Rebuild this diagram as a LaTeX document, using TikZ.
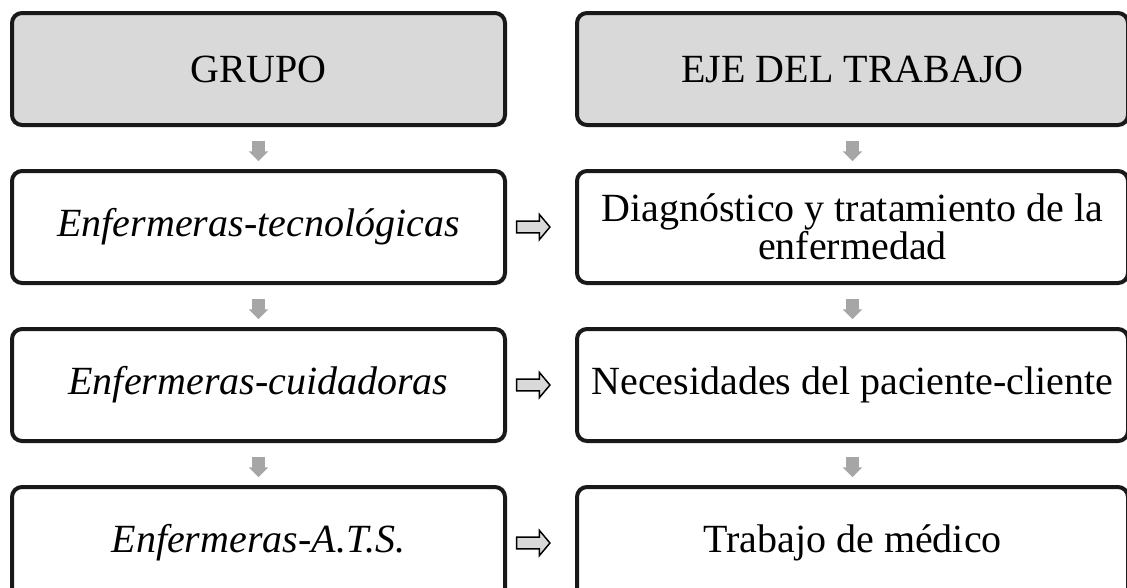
\documentclass[tikz,border=0pt]{standalone}
\usepackage{fontspec}
\setmainfont{Liberation Serif}
\usepackage{tikz}
\usetikzlibrary{shapes.arrows, positioning}

\begin{document}
\begin{tikzpicture}[
  node distance=31.5pt and 51pt,
  block/.style={rectangle, draw=black!90, line width=3pt, rounded corners=7.5pt, fill=white, minimum height=84pt, inner sep=4pt, align=center, font=\fontsize{30}{22.5}\selectfont},
  leftblock/.style={block, minimum width=369.75pt},
  rightblock/.style={block, minimum width=413.25pt},
  header/.style={fill=gray!30},
  downarrow/.style={single arrow, shape border rotate=270, draw=none, fill=gray!70, inner sep=4.5pt, minimum height=15pt, single arrow head extend=2.6pt, single arrow head indent=0pt},
  rightarrow/.style={single arrow, draw=black, line width=1.1pt, fill=gray!30, inner sep=3.9pt, minimum height=25pt, single arrow head extend=5pt, single arrow head indent=0pt, single arrow tip angle=100}
]
\useasboundingbox (0,0) rectangle (845.25pt,-440.25pt);

% Header Row
\node[leftblock, header, anchor=north west] (grupo) at (7.5pt,-8.25pt) {GRUPO};
\node[rightblock, header, right=of grupo] (eje) {EJE DEL TRABAJO};

% Group Column
\node[leftblock, below=of grupo] (tecno) {\textit{Enfermeras-tecnológicas}};
\node[leftblock, below=of tecno] (cuida) {\textit{Enfermeras-cuidadoras}};
\node[leftblock, below=of cuida] (ats) {\textit{Enfermeras-A.T.S.}};

% Work Axis Column
\node[rightblock, below=of eje] (diag) {Diagnóstico y tratamiento de la\\enfermedad};
\node[rightblock, below=of diag] (necesid) {Necesidades del paciente-cliente};
\node[rightblock, below=of necesid] (medico) {Trabajo de médico};

% Vertical Arrows
\path (grupo) -- node[downarrow] {} (tecno);
\path (tecno) -- node[downarrow] {} (cuida);
\path (cuida) -- node[downarrow] {} (ats);
\path (eje) -- node[downarrow] {} (diag);
\path (diag) -- node[downarrow] {} (necesid);
\path (necesid) -- node[downarrow] {} (medico);

% Horizontal Arrows
\path (tecno) -- node[pos=0.35, rightarrow] {} (diag);
\path (cuida) -- node[pos=0.35, rightarrow] {} (necesid);
\path (ats) -- node[pos=0.35, rightarrow] {} (medico);

\end{tikzpicture}
\end{document}
